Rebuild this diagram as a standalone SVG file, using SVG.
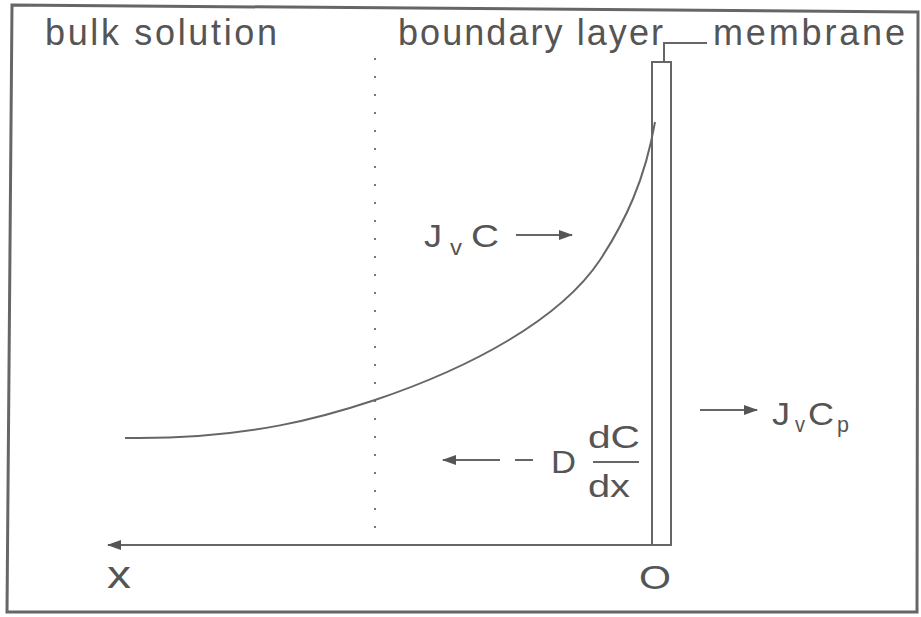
<svg xmlns="http://www.w3.org/2000/svg" width="921" height="617" viewBox="0 0 921 617">
<defs>
<style>
.t{font-family:"Liberation Sans",Arial,Helvetica,sans-serif;fill:#555}
.ln{fill:none;stroke:#666;stroke-width:2}
.dot{fill:none;stroke:#777;stroke-width:2;stroke-dasharray:2 16}
</style>
<marker id="ah" viewBox="0 0 14 10" refX="13" refY="5" markerWidth="14" markerHeight="10" markerUnits="userSpaceOnUse" orient="auto">
<path d="M0,0 L14,5 L0,10 Z" fill="#555"/>
</marker>
</defs>
<rect width="921" height="617" fill="#fff"/>
<g id="frame"><polygon points="12,5 918,12 917,612 7,612" fill="none" stroke="#666" stroke-width="3"/></g>

<g id="labels">
<text class="t" x="45" y="45" font-size="36" textLength="232" lengthAdjust="spacing">bulk solution</text>
<text class="t" x="398" y="45" font-size="36" textLength="265" lengthAdjust="spacing">boundary layer</text>
<text class="t" x="713" y="45" font-size="36" textLength="192" lengthAdjust="spacing">membrane</text>
</g>

<g id="membrane">
<rect x="652" y="62" width="19" height="483" fill="#fff" stroke="#666" stroke-width="2"/>
</g>

<g id="boundary">
<line class="dot" x1="375" y1="58" x2="375" y2="545"/>
</g>

<g id="profile">
<path class="ln" d="M125,438 C250,440 330,415 375,400 C470,368 560,320 600,260 C625,222 645,180 655,122"/>
</g>

<g id="axis-labels">
<text class="t" x="107" y="588" font-size="38" textLength="24" lengthAdjust="spacingAndGlyphs">x</text>
<text class="t" x="639" y="589" font-size="33" textLength="32" lengthAdjust="spacingAndGlyphs">O</text>
</g>

<g id="jvc">
<text class="t" x="424" y="247" font-size="32" textLength="18" lengthAdjust="spacingAndGlyphs">J</text>
<text class="t" x="450" y="255" font-size="22" textLength="12" lengthAdjust="spacingAndGlyphs">v</text>
<text class="t" x="471" y="247" font-size="32" textLength="28" lengthAdjust="spacingAndGlyphs">C</text>
</g>

<g id="diffusion">
<text class="t" x="551" y="473" font-size="32" textLength="25" lengthAdjust="spacingAndGlyphs">D</text>
<text class="t" x="588" y="448" font-size="32" textLength="52" lengthAdjust="spacingAndGlyphs">dC</text>
<text class="t" x="588" y="497" font-size="32" textLength="42" lengthAdjust="spacingAndGlyphs">dx</text>
<line x1="593" y1="462" x2="639" y2="462" stroke="#666" stroke-width="2"/>
</g>

<g id="jvcp">
<text class="t" x="772" y="425" font-size="31" textLength="18" lengthAdjust="spacingAndGlyphs">J</text>
<text class="t" x="795" y="432" font-size="22" textLength="10" lengthAdjust="spacingAndGlyphs">v</text>
<text class="t" x="808" y="425" font-size="31" textLength="26" lengthAdjust="spacingAndGlyphs">C</text>
<text class="t" x="837" y="432" font-size="22" textLength="12" lengthAdjust="spacingAndGlyphs">p</text>
</g>

<g id="connectors">
<polyline class="ln" points="664,62 664,43 707,43"/>
<line class="ln" x1="670" y1="545" x2="108" y2="545" marker-end="url(#ah)"/>
<line class="ln" x1="516" y1="235" x2="572" y2="235" marker-end="url(#ah)"/>
<line class="ln" x1="500" y1="460" x2="443" y2="460" marker-end="url(#ah)"/>
<line class="ln" x1="515" y1="460" x2="533" y2="460"/>
<line class="ln" x1="700" y1="410" x2="757" y2="410" marker-end="url(#ah)"/>
</g>
</svg>
